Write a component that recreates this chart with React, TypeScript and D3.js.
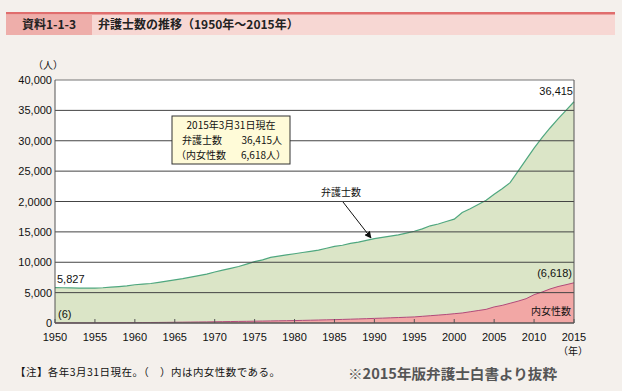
import React from 'react'
import * as d3 from 'd3'

// years 1950-2015
const years = d3.range(1950, 2016)
const lawyers = [
  5827, 5800, 5780, 5750, 5730, 5750, 5800, 5900, 6000, 6100,
  6300, 6400, 6500, 6700, 6900, 7100, 7300, 7550, 7800, 8050,
  8400, 8700, 9000, 9300, 9700, 10100, 10400, 10800, 11000, 11200,
  11400, 11600, 11800, 12000, 12300, 12600, 12800, 13100, 13300, 13600,
  13900, 14100, 14300, 14500, 14800, 15100, 15500, 16000, 16300, 16700,
  17100, 18200, 18800, 19500, 20200, 21200, 22100, 23100, 25000, 26900,
  28800, 30500, 32100, 33600, 35000, 36415,
]
const women = [
  6, 8, 10, 12, 15, 20, 25, 30, 40, 50,
  60, 70, 80, 90, 105, 120, 135, 150, 165, 180,
  200, 220, 240, 260, 280, 300, 320, 340, 360, 380,
  400, 430, 460, 490, 520, 550, 590, 630, 670, 710,
  760, 800, 850, 900, 950, 1000, 1100, 1200, 1300, 1400,
  1530, 1650, 1850, 2050, 2250, 2648, 2900, 3250, 3600, 4000,
  4660, 5100, 5600, 6000, 6300, 6618,
]
const yTicks = [0, 5000, 10000, 15000, 20000, 25000, 30000, 35000, 40000]
const yTickLabels = ['0', '5,000', '10,000', '15,000', '2,0000', '25,000', '30,000', '35,000', '40,000']
const xTicks = d3.range(1950, 2016, 5)

const jp = '"Noto Sans CJK JP", sans-serif'
const num = '"Liberation Sans", Arial, sans-serif'

function App() {
  const left = 55, right = 574, top = 80, bottom = 323
  const x = d3.scaleLinear().domain([1950, 2015]).range([left, right])
  const y = d3.scaleLinear().domain([0, 40000]).range([bottom, top])

  const areaAll = d3.area<number>().x((d, i) => x(years[i])).y0(y(0)).y1(d => y(d))
  const lineAll = d3.line<number>().x((d, i) => x(years[i])).y(d => y(d))

  return (
    <svg width={622} height={391} style={{ position: 'absolute', left: 0, top: 0 }}>
      <defs>
        <marker id="arr" viewBox="0 0 10 10" refX="9" refY="5" markerWidth="7" markerHeight="7" orient="auto">
          <path d="M0,0 L10,5 L0,10 z" fill="#111" />
        </marker>
      </defs>
      <rect width={622} height={391} fill="#f4f0ec" />

      {/* header */}
      <rect x={6} y={12} width={609} height={23} fill="#f7d7d3" />
      <rect x={6} y={12} width={609} height={2.5} fill="#e06d6d" />
      <rect x={6} y={14.5} width={86} height={20.5} fill="#eeaeaa" />
      <text x={49} y={29} textAnchor="middle" fontFamily={jp} fontSize={12} fontWeight="bold" fill="#222">資料1-1-3</text>
      <text x={98} y={29} fontFamily={jp} fontSize={12} fontWeight="bold" fill="#222">弁護士数の推移（1950年〜2015年）</text>

      {/* plot */}
      <rect x={left} y={top} width={right - left} height={bottom - top} fill="#fff" />
      <path d={areaAll(lawyers) || ''} fill="#dbe5c7" />
      <path d={lineAll(lawyers) || ''} fill="none" stroke="#4fa77f" strokeWidth={1.2} />
      <path d={areaAll(women) || ''} fill="#f2a7a5" />
      <path d={lineAll(women) || ''} fill="none" stroke="#b24a7a" strokeWidth={1} />

      {yTicks.map((t, i) => (
        <g key={t}>
          {t > 0 && <line x1={left} x2={right} y1={y(t)} y2={y(t)} stroke={t === 40000 ? '#777' : '#444'} strokeWidth={1} />}
          <text x={52} y={y(t) + 4} textAnchor="end" fontFamily={num} fontSize={11} fill="#111">{yTickLabels[i]}</text>
        </g>
      ))}
      <line x1={left} x2={left} y1={top} y2={bottom} stroke="#555" />
      <line x1={right} x2={right} y1={top} y2={bottom} stroke="#555" />
      <line x1={left} x2={right} y1={bottom} y2={bottom} stroke="#555" strokeWidth={1.5} />
      {xTicks.map(t => (
        <g key={t}>
          <line x1={x(t)} x2={x(t)} y1={bottom} y2={bottom - 4} stroke="#555" />
          <text x={x(t)} y={341} textAnchor="middle" fontFamily={num} fontSize={11} fill="#111">{t}</text>
        </g>
      ))}
      <text x={48} y={69} textAnchor="middle" fontFamily={jp} fontSize={10} fill="#111">（人）</text>
      <text x={573} y={355} textAnchor="middle" fontFamily={jp} fontSize={10} fill="#111">（年）</text>

      {/* labels */}
      <text x={57} y={283} fontFamily={num} fontSize={11} fill="#111">5,827</text>
      <text x={58} y={318} fontFamily={num} fontSize={11} fill="#111">(6)</text>
      <text x={573} y={y(36415) - 7} textAnchor="end" fontFamily={num} fontSize={11} fill="#111">36,415</text>
      <text x={572} y={y(6618) - 6} textAnchor="end" fontFamily={num} fontSize={11} fill="#111">(6,618)</text>
      <text x={571} y={315} textAnchor="end" fontFamily={jp} fontSize={10} fill="#111">内女性数</text>

      <text x={341} y={196} textAnchor="middle" fontFamily={jp} fontSize={10} fill="#111">弁護士数</text>
      <line x1={343} y1={202} x2={371} y2={238} stroke="#111" strokeWidth={1} markerEnd="url(#arr)" />

      <rect x={172} y={116} width={118} height={48} fill="#fffbd8" stroke="#333" strokeWidth={1} />
      <text x={231} y={129} textAnchor="middle" fontFamily={jp} fontSize={10} fill="#111">2015年3月31日現在</text>
      <text x={182} y={144} fontFamily={jp} fontSize={10} fill="#111">弁護士数</text>
      <text x={282} y={144} textAnchor="end" fontFamily={jp} fontSize={10} fill="#111">36,415人</text>
      <text x={176} y={159} fontFamily={jp} fontSize={10} fill="#111">（内女性数</text>
      <text x={286} y={159} textAnchor="end" fontFamily={jp} fontSize={10} fill="#111">6,618人）</text>

      {/* footer */}
      <text x={15} y={376} fontFamily={jp} fontSize={10.5} fill="#111" textLength={265} lengthAdjust="spacing">【注】各年3月31日現在。（　）内は内女性数である。</text>
      <text x={348} y={379} fontFamily={jp} fontSize={14} fontWeight="bold" fill="#555" textLength={209} lengthAdjust="spacingAndGlyphs">※2015年版弁護士白書より抜粋</text>
    </svg>
  )
}
export default App
